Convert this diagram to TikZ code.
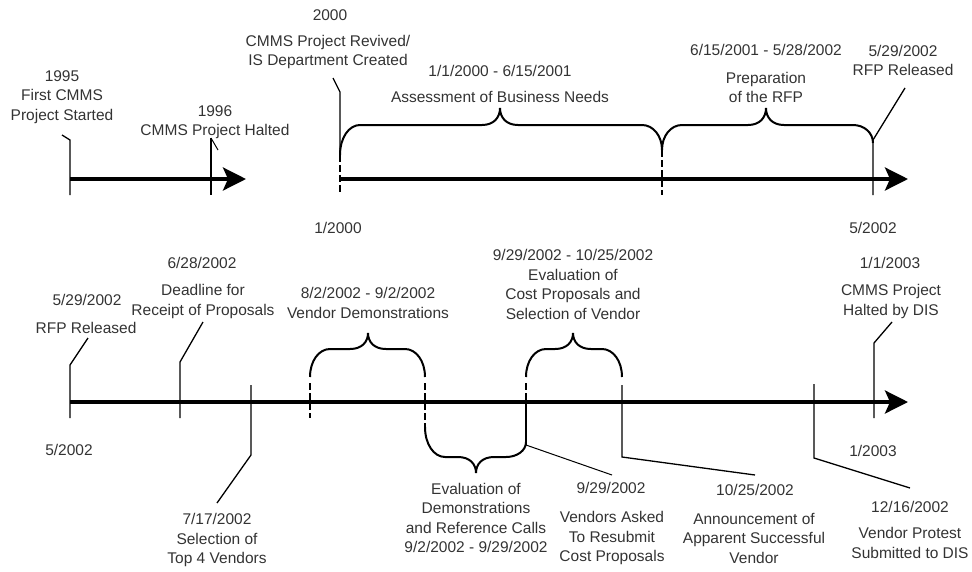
\documentclass[tikz,border=0pt]{standalone}
\usepackage{fontspec}
\setmainfont{Liberation Sans}
\usetikzlibrary{arrows.meta}
\definecolor{txtc}{HTML}{333333}
\newcommand{\tlbrace}[7]{%
  \draw[bracestyle] (#1,#3) .. controls (#1,{#5+0.42*(#3-#5)}) and ({#1+9},#5) .. ({#1+20},#5) -- ({#6-18},#5)
    .. controls ({#6-6},#5) and (#6,{#5+0.45*(#7-#5)}) .. (#6,#7)
    .. controls (#6,{#5+0.45*(#7-#5)}) and ({#6+6},#5) .. ({#6+18},#5)
    -- ({#2-20},#5) .. controls ({#2-9},#5) and (#2,{#5+0.42*(#4-#5)}) .. (#2,#4);}
\begin{document}
\begin{tikzpicture}[x=1pt,y=-1pt,
  lbl/.style={align=center, inner sep=0pt, text=txtc, font=\fontsize{15.5}{19.5}\selectfont},
  axisline/.style={line width=3.5pt, -{Stealth[length=23pt,width=23pt,inset=5pt]}},
  tickline/.style={line width=1.3pt},
  dtick/.style={line width=1.3pt, dash pattern=on 7pt off 3pt},
  leader/.style={line width=1pt},
  bracestyle/.style={line width=2pt}]
\useasboundingbox (0,0) rectangle (972,571);

% ---------------- top-left timeline ----------------
\node[lbl] (l1995) at (62,97) {1995\\First CMMS\\Project Started};
\node[lbl] (l1996) at (215,122) {1996\\CMMS Project Halted};
\coordinate (a1s) at (70,179);
\coordinate (a1e) at (246,179);
\coordinate (t95lead) at (62,135);
\coordinate (t95top) at (70,140);
\coordinate (t95bot) at (70,195);
\coordinate (t96top) at (211,138);
\coordinate (t96lead) at (218,150);
\coordinate (t96bot) at (211,195);
\draw[axisline] (a1s) -- (a1e);
\draw[tickline] (t95lead) -- (t95top) -- (t95bot);
\draw[tickline] (t96top) -- (t96bot);
\draw[leader] (t96top) -- (t96lead);

% ---------------- top-right timeline ----------------
\node[lbl] (l2000y) at (330,15) {2000};
\node[lbl] (l2000) at (328,52) {CMMS Project Revived/\\IS Department Created};
\node[lbl] (lassD) at (500,71) {1/1/2000 - 6/15/2001};
\node[lbl] (lass) at (500,97) {Assessment of Business Needs};
\node[lbl] (lprepD) at (766,50) {6/15/2001 - 5/28/2002};
\node[lbl] (lprep) at (766,87.5) {Preparation\\of the RFP};
\node[lbl] (lrfp) at (903,60.5) {5/29/2002\\RFP Released};
\node[lbl] (l2000b) at (338,228) {1/2000};
\node[lbl] (l2002b) at (873,228) {5/2002};
\coordinate (a2s) at (340,179);
\coordinate (a2e) at (908,179);
\draw[axisline] (a2s) -- (a2e);
\coordinate (t00lead) at (333,78);
\coordinate (t00top) at (340,92);
\coordinate (t00mid) at (340,155);
\coordinate (t00bot) at (340,195);
\draw[tickline] (t00lead) -- (t00top) -- (t00mid);
\draw[dtick] (t00mid) -- (t00bot);
\coordinate (t01top) at (662,150);
\coordinate (t01bot) at (662,195);
\draw[dtick] (t01top) -- (t01bot);
\coordinate (t02lead) at (905,88);
\coordinate (t02top) at (873,140);
\coordinate (t02bot) at (873,195);
\draw[tickline] (t02lead) -- (t02top) -- (t02bot);
\tlbrace{340}{662}{155}{150}{125}{500}{108}
\tlbrace{662}{873}{150}{143}{125}{766}{108}

% ---------------- bottom timeline ----------------
\node[lbl] (lrfp2D) at (87,300) {5/29/2002};
\node[lbl] (lrfp2) at (86,328) {RFP Released};
\node[lbl] (ldeadD) at (202,263) {6/28/2002};
\node[lbl] (ldead) at (203,301.5) {Deadline for\\Receipt of Proposals};
\node[lbl] (lsel) at (217,540) {7/17/2002\\Selection of\\Top 4 Vendors};
\node[lbl] (l2002c) at (69,450) {5/2002};
\node[lbl] (ldemo) at (368,303) {8/2/2002 - 9/2/2002\\Vendor Demonstrations};
\node[lbl] (lcost) at (573,284.5) {9/29/2002 - 10/25/2002\\Evaluation of\\Cost Proposals and\\Selection of Vendor};
\node[lbl] (levd) at (476,518) {Evaluation of\\Demonstrations\\and Reference Calls\\9/2/2002 - 9/29/2002};
\node[lbl] (lvaD) at (611,488) {9/29/2002};
\node[lbl] (lva) at (612,538) {Vendors Asked\\To Resubmit\\Cost Proposals};
\node[lbl] (lannD) at (755,490) {10/25/2002};
\node[lbl] (lann) at (754,538) {Announcement of\\Apparent Successful\\Vendor};
\node[lbl] (lproD) at (910,507) {12/16/2002};
\node[lbl] (lpro) at (910,543) {Vendor Protest\\Submitted to DIS};
\node[lbl] (lhaltD) at (890,263) {1/1/2003};
\node[lbl] (lhalt) at (891,301.5) {CMMS Project\\Halted by DIS};
\node[lbl] (l2003) at (873,451) {1/2003};

\coordinate (a3s) at (70,402);
\coordinate (a3e) at (908,402);
\draw[axisline] (a3s) -- (a3e);

\coordinate (b1lead) at (88,338);
\coordinate (b1top) at (70,365);
\coordinate (b1bot) at (70,418);
\draw[tickline] (b1lead) -- (b1top) -- (b1bot);

\coordinate (b2lead) at (203,322);
\coordinate (b2top) at (180,362);
\coordinate (b2bot) at (180,418);
\draw[tickline] (b2lead) -- (b2top) -- (b2bot);

\coordinate (b3top) at (251,385);
\coordinate (b3bot) at (251,455);
\coordinate (b3lead) at (217,503);
\draw[tickline] (b3top) -- (b3bot) -- (b3lead);

\coordinate (b4top) at (310,383);
\coordinate (b4bot) at (310,418);
\draw[dtick] (b4top) -- (b4bot);

\coordinate (b5top) at (425,383);
\coordinate (b5bot) at (425,427);
\draw[dtick] (b5top) -- (b5bot);

\coordinate (b6top) at (526,383);
\coordinate (b6mid) at (526,402);
\coordinate (b6bot) at (526,445);
\coordinate (b6lead) at (612,475);
\draw[dtick] (b6top) -- (b6mid);
\draw[tickline] (b6mid) -- (b6bot);
\draw[leader] (b6bot) -- (b6lead);

\coordinate (b7top) at (622,385);
\coordinate (b7bot) at (622,457);
\coordinate (b7lead) at (755,475);
\draw[tickline] (b7top) -- (b7bot) -- (b7lead);

\coordinate (b8top) at (814,384);
\coordinate (b8bot) at (814,458);
\coordinate (b8lead) at (910,488);
\draw[tickline] (b8top) -- (b8bot) -- (b8lead);

\coordinate (b9lead) at (892,322);
\coordinate (b9top) at (874,343);
\coordinate (b9bot) at (874,418);
\draw[tickline] (b9lead) -- (b9top) -- (b9bot);

\tlbrace{310}{425}{377}{377}{349}{368}{333}
\tlbrace{425}{526}{427}{442}{457}{476}{473}
\tlbrace{526}{622}{377}{377}{349}{573}{333}
\end{tikzpicture}
\end{document}
